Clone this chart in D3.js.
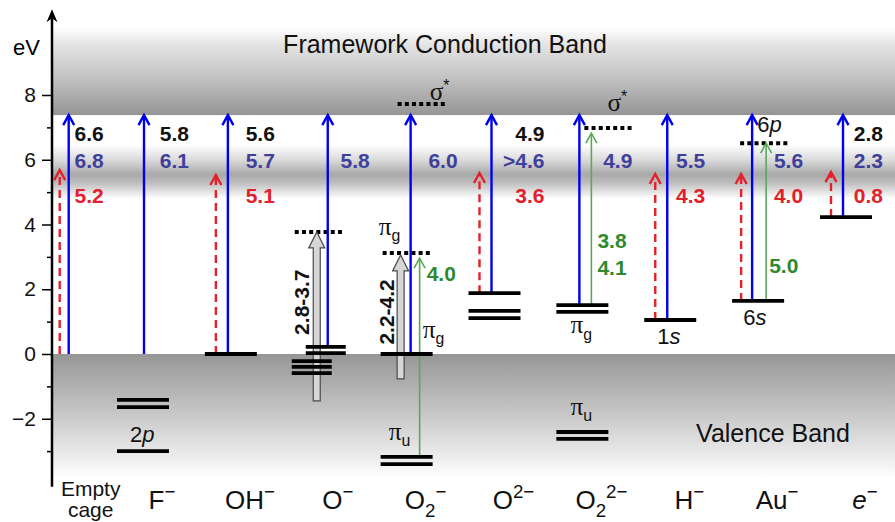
<!DOCTYPE html>
<html>
<head>
<meta charset="utf-8">
<script src="https://cdn.jsdelivr.net/npm/d3@7"></script>
<style>
  body { margin: 0; background: #fff; }
  svg text { font-family: "Liberation Sans", Arial, Helvetica, sans-serif; }
</style>
</head>
<body>
<svg id="chart" width="895" height="522"></svg>
<script>
// ---- data (energies in eV) ----
// label parts: "_x" subscript, "^x" superscript, "/" italic, "~" serif
const categories = [["Empty", "cage"], ["F", "^−"], ["OH", "^−"], ["O", "^−"], ["O", "_2", "^−"],
  ["O", "^2−"], ["O", "_2", "^2−"], ["H", "^−"], ["Au", "^−"], ["/e", "^−"]];
const columnSlot = [0.2, 1, 2, 3, 4, 5, 6, 7, 8, 9];

const majorTicks = [-2, 0, 2, 4, 6, 8];
const minorTicks = [-3, -1, 1, 3, 5, 7];

// occupied levels per category
const levels = [[], [-1.42, -1.64, -3.0], [0], [0.22, 0.03, -0.22, -0.4, -0.59], [0, -3.18, -3.4],
  [1.88, 1.33, 1.11], [1.51, 1.3, -2.41, -2.62], [1.05], [1.64], [4.23]];

// empty (dotted) levels: [category, eV]
const emptyLevels = [[3, 3.77], [4, 3.12], [4, 7.72], [6, 6.98], [8, 6.51]];

// bands: [top eV, bottom eV]
const conductionBand = [10.1, 7.38];
const hazeBand = [6.47, 4.8];
const valenceBand = [0, -3.85];

// transitions: [category, from eV, to eV, kind]
const transitions = [
  [0, 0, 5.68, "red"], [0, 0, 7.38, "blue"],
  [1, 0, 7.38, "blue"],
  [2, 0, 5.53, "red"], [2, 0, 7.38, "blue"],
  [3, 0.22, 7.38, "blue"], [3, -1.45, 3.77, "hollow"],
  [4, 0, 7.38, "blue"], [4, -3.18, 2.96, "green"], [4, -0.77, 3.06, "hollow"],
  [5, 1.88, 5.59, "red"], [5, 1.88, 7.38, "blue"],
  [6, 1.51, 7.38, "blue"], [6, 1.51, 6.82, "green"],
  [7, 1.05, 5.56, "red"], [7, 1.05, 7.38, "blue"],
  [8, 1.64, 5.56, "red"], [8, 1.64, 7.38, "blue"], [8, 1.64, 6.51, "green"],
  [9, 4.23, 5.62, "red"], [9, 4.23, 7.38, "blue"]
];

// energy values printed next to the arrows
const blackValues = ["6.6", "5.8", "5.6", null, null, "4.9", null, null, null, "2.8"];
const blueValues = ["6.8", "6.1", "5.7", "5.8", "6.0", ">4.6", "4.9", "5.5", "5.6", "2.3"];
const redValues = ["5.2", null, "5.1", null, null, "3.6", null, "4.3", "4.0", "0.8"];
const greenCols = [4, 6, 6, 8];
const greenValues = ["4.0", "3.8", "4.1", "5.0"];
const rangeCols = [3, 4];
const rangeValues = ["2.8-3.7", "2.2-4.2"];

// orbital annotations
const orbitalCols = [4, 6, 4, 4, 6, 4, 6, 1, 7, 8, 8];
const orbitalLabels = [["~σ", "^*"], ["~σ", "^*"], ["~π", "_g"], ["~π", "_g"], ["~π", "_g"],
  ["~π", "_u"], ["~π", "_u"], ["2", "/p"], ["1", "/s"], ["6", "/s"], ["6", "/p"]];

// ---- layout ----
const W = 895, H = 522, axisX = 52;
const svg = d3.select("#chart");
const x = d3.scaleLinear().domain([1, 9]).range([143, 846]);
const y = d3.scaleLinear().domain([0, 8]).range([354, 95]);

const colors = { red: "#e3202b", blue: "#0000f0", green: "#5aa85a",
  blueText: "#3f3f9c", greenText: "#2e8a2e", black: "#111" };
const arrowDx = { red: -15, blue: -3, green: 9, hollow: -5 };
const arrowNudge = { 0: { red: -13, blue: -4 }, 1: { blue: 1 }, 3: { blue: 9, hollow: -2 },
  4: { blue: 4, green: 13, hollow: -6 }, 8: { red: -17, blue: -6, green: 8 } };
const valueRight = [31, 46, 44, 51, 51, 50, 50, 35, 45, 37];   // right edge of value text from column
const greenPos = [[20, 2.24], [15, 3.28], [15, 2.45], [11, 2.51]];
const rangePos = [[-17, 1.6], [-20, 1.3]];
const emptyDx = [1, 1, 16, 27, 7];
const orbitalPos = [[23, 7.85], [25, 7.5], [-28, 3.68], [16, 0.5], [-12, 0.65],
  [-18, -2.65], [-12, -1.88], [-13, -2.73], [-13, 0.31], [-15, 0.9], [-1, 6.85]];

const colX = i => x(columnSlot[i]);

function addParts(sel, parts, size) {
  let shift = 0;
  parts.forEach(p => {
    let kind = "n", s = p;
    if (s[0] === "_") { kind = "sub"; s = s.slice(1); }
    else if (s[0] === "^") { kind = "sup"; s = s.slice(1); }
    let italic = false, serif = false;
    if (s[0] === "/") { italic = true; s = s.slice(1); }
    if (s[0] === "~") { serif = true; s = s.slice(1); }
    const target = kind === "sub" ? size * 0.3 : kind === "sup" ? -size * 0.42 : 0;
    const t = sel.append("tspan").text(s).attr("dy", target - shift);
    if (kind !== "n") t.attr("font-size", size * 0.72);
    if (italic) t.attr("font-style", "italic");
    if (serif) t.attr("font-family", "'Liberation Serif', 'Times New Roman', serif").attr("font-size", size * 1.15);
    shift = target;
  });
}

// ---- gradients ----
const defs = svg.append("defs");
function vGrad(id, stops) {
  const g = defs.append("linearGradient").attr("id", id)
    .attr("x1", 0).attr("x2", 0).attr("y1", 0).attr("y2", 1);
  stops.forEach(([o, c]) => g.append("stop").attr("offset", o).attr("stop-color", c));
}
vGrad("cb", [[0, "#ffffff"], [0.2, "#e4e4e4"], [0.6, "#c0c0c0"], [1, "#959595"]]);
vGrad("haze", [[0, "#ffffff"], [0.3, "#d8d8d8"], [0.55, "#a9a9a9"], [0.7, "#bcbcbc"], [1, "#ffffff"]]);
vGrad("vb", [[0, "#969696"], [0.45, "#c4c4c4"], [1, "#ffffff"]]);

const bands = [[conductionBand, "cb"], [hazeBand, "haze"], [valenceBand, "vb"]];
svg.append("g").selectAll("rect").data(bands).join("rect")
  .attr("x", axisX).attr("width", W - axisX)
  .attr("y", d => y(d[0][0]))
  .attr("height", d => y(d[0][1]) - y(d[0][0]))
  .attr("fill", d => `url(#${d[1]})`);

// ---- axis ----
const gAxis = svg.append("g").attr("transform", `translate(${axisX},0)`)
  .call(d3.axisLeft(y).tickValues(majorTicks).tickSize(10).tickPadding(6)
    .tickFormat(d => d < 0 ? "−" + Math.abs(d) : d));
gAxis.select(".domain").remove();
gAxis.attr("font-size", 21).attr("font-family", null);
gAxis.selectAll("text").attr("fill", colors.black);
gAxis.selectAll("line").attr("stroke-width", 1.5);

const gMinor = svg.append("g").attr("transform", `translate(${axisX},0)`)
  .call(d3.axisLeft(y).tickValues(minorTicks).tickSize(5).tickFormat(""));
gMinor.select(".domain").remove();
gMinor.selectAll("line").attr("stroke-width", 1.5);

svg.append("line").attr("x1", axisX).attr("x2", axisX)
  .attr("y1", y(-4.1)).attr("y2", y(10.5)).attr("stroke", "#000").attr("stroke-width", 2.5);
svg.append("path")
  .attr("d", `M${axisX},${y(10.65)} L${axisX - 5.5},${y(10.65) + 13} L${axisX},${y(10.65) + 9} L${axisX + 5.5},${y(10.65) + 13} Z`)
  .attr("fill", "#000");
svg.append("text").attr("x", 13).attr("y", 55).attr("font-size", 22).text("eV");

// band titles
svg.append("text").attr("x", 445).attr("y", y(9.3)).attr("text-anchor", "middle")
  .attr("font-size", 25).attr("fill", "#111").text("Framework Conduction Band");
svg.append("text").attr("x", 773).attr("y", y(-2.72)).attr("text-anchor", "middle")
  .attr("font-size", 25).attr("fill", "#111").text("Valence Band");

// ---- empty levels ----
svg.append("g").selectAll("line").data(emptyLevels).join("line")
  .attr("x1", (d, i) => colX(d[0]) + emptyDx[i] - 25)
  .attr("x2", (d, i) => colX(d[0]) + emptyDx[i] + 25)
  .attr("y1", d => y(d[1])).attr("y2", d => y(d[1]))
  .attr("stroke", "#000").attr("stroke-width", 4).attr("stroke-dasharray", "4,3.2");

// ---- transitions ----
const gT = svg.append("g");
transitions.forEach(([c, from, to, kind]) => {
  const nudge = arrowNudge[c] && arrowNudge[c][kind] !== undefined ? arrowNudge[c][kind] : arrowDx[kind];
  const ax = colX(c) + nudge, y0 = y(from), y1 = y(to);
  if (kind === "hollow") {
    const sw = 3.5, hw = 8, hl = 16;
    gT.append("path")
      .attr("d", `M${ax - sw},${y0} L${ax - sw},${y1 + hl} L${ax - hw},${y1 + hl} L${ax},${y1} L${ax + hw},${y1 + hl} L${ax + sw},${y1 + hl} L${ax + sw},${y0} Z`)
      .attr("fill", "#d6d6d6").attr("stroke", "#4a4a4a").attr("stroke-width", 1.2);
    return;
  }
  const col = colors[kind];
  const w = kind === "green" ? 1.6 : 2.4;
  gT.append("line").attr("x1", ax).attr("x2", ax).attr("y1", y0).attr("y2", y1 + 1)
    .attr("stroke", col).attr("stroke-width", w)
    .attr("stroke-dasharray", kind === "red" ? "8,5" : null);
  gT.append("path").attr("d", `M${ax - 5.5},${y1 + 10} L${ax},${y1} L${ax + 5.5},${y1 + 10}`)
    .attr("fill", "none").attr("stroke", col).attr("stroke-width", w);
});

// ---- occupied levels ----
svg.append("g").selectAll("line")
  .data(levels.flatMap((ls, c) => ls.map(e => [c, e])))
  .join("line")
  .attr("x1", d => d[0] === 3 ? colX(3) + (d[1] > 0 ? 7 : -7) - 20 : colX(d[0]) - 26)
  .attr("x2", d => d[0] === 3 ? colX(3) + (d[1] > 0 ? 7 : -7) + 20 : colX(d[0]) + 26)
  .attr("y1", d => y(d[1])).attr("y2", d => y(d[1]))
  .attr("stroke", "#000").attr("stroke-width", 3.8);

// ---- value labels ----
const rows = [[blackValues, colors.black, 141], [blueValues, colors.blueText, 168], [redValues, colors.red, 203]];
const gV = svg.append("g").attr("font-weight", "bold").attr("font-size", 21).attr("text-anchor", "end");
rows.forEach(([vals, col, base]) => {
  vals.forEach((v, i) => {
    if (!v) return;
    gV.append("text").attr("x", colX(i) + valueRight[i]).attr("y", base).attr("fill", col).text(v);
  });
});
greenValues.forEach((v, i) => {
  svg.append("text").attr("x", colX(greenCols[i]) + greenPos[i][0]).attr("y", y(greenPos[i][1]))
    .attr("font-weight", "bold").attr("font-size", 21).attr("fill", colors.greenText).text(v);
});
rangeValues.forEach((v, i) => {
  const cx = colX(rangeCols[i]) + rangePos[i][0], cy = y(rangePos[i][1]);
  svg.append("text").attr("transform", `translate(${cx},${cy}) rotate(-90)`)
    .attr("text-anchor", "middle").attr("dy", "0.36em")
    .attr("font-weight", "bold").attr("font-size", 21).attr("fill", colors.black).text(v);
});

// ---- orbital labels ----
orbitalLabels.forEach((parts, i) => {
  const t = svg.append("text").attr("x", colX(orbitalCols[i]) + orbitalPos[i][0])
    .attr("y", y(orbitalPos[i][1])).attr("font-size", 22).attr("fill", "#111");
  addParts(t, parts, 22);
});

// ---- category labels ----
categories.forEach((parts, i) => {
  if (i === 0) {
    parts.forEach((line, k) => {
      svg.append("text").attr("x", colX(0) + 18).attr("y", 496 + k * 21)
        .attr("text-anchor", "middle").attr("font-size", 21).attr("fill", "#111").text(line);
    });
    return;
  }
  const t = svg.append("text").attr("x", colX(i) + 19).attr("y", 509)
    .attr("text-anchor", "middle").attr("font-size", 26).attr("fill", "#111");
  addParts(t, parts, 26);
});
</script>
</body>
</html>
